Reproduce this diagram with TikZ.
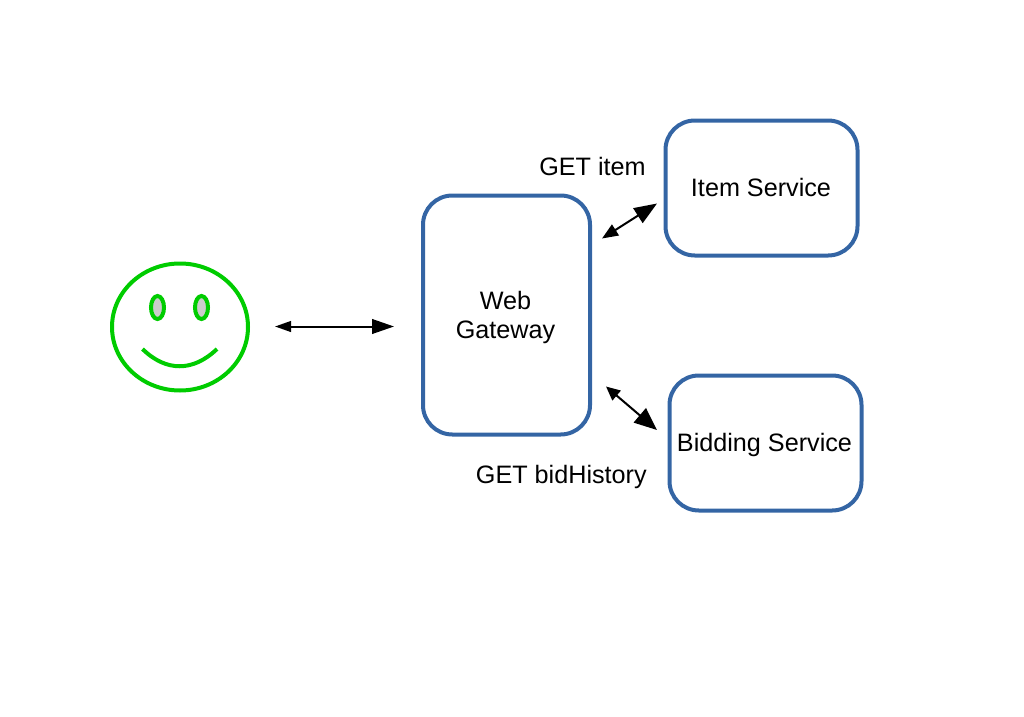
\documentclass[tikz,border=0pt]{standalone}
\usepackage{fontspec}
\setmainfont{Liberation Sans}
\usetikzlibrary{arrows.meta}
\definecolor{boxblue}{HTML}{3465A4}
\definecolor{facegreen}{HTML}{00CC00}
\definecolor{eyegrey}{HTML}{CCCCCC}
\tikzset{
  svc/.style={draw=boxblue,line width=3pt,rounded corners=22pt,anchor=north west,inner sep=0pt,outer sep=0pt},
  lbl/.style={inner sep=0pt,align=center,font=\fontsize{18.9pt}{21.75pt}\selectfont},
  face/.style={draw=facegreen,line width=3pt},
  link/.style={black,line width=1.5pt},
}
\begin{document}
\begin{tikzpicture}[x=0.75pt,y=-0.75pt]
\useasboundingbox (0,0) rectangle (1024,717);
\node[svc,minimum width=125.25pt,minimum height=179.25pt] (web) at (423,195.5) {};
\node[svc,minimum width=144pt,minimum height=101.25pt] (item) at (665.5,120.5) {};
\node[svc,minimum width=144pt,minimum height=101.25pt] (bid) at (669.5,375.5) {};
\node[lbl] (webtext) at (505.5,317) {Web\\Gateway};
\node[lbl] (itemtext) at (761,187) {Item Service};
\node[lbl] (bidtext) at (764.5,445) {Bidding Service};
\node[lbl,anchor=base east] (getitem) at (646,175) {GET item};
\node[lbl,anchor=base east] (getbid) at (647,483) {GET bidHistory};
% face
\draw[face] (180,327) ellipse [x radius=68,y radius=63.5];
\draw[face,fill=eyegrey] (157.5,307.5) ellipse [x radius=6.5,y radius=11.5];
\draw[face,fill=eyegrey] (201.5,307.5) ellipse [x radius=6.5,y radius=11.5];
\draw[face,line cap=butt] (142.5,349) .. controls (166,372) and (193,372) .. (217,349);
% arrows
\coordinate (c1) at (275,326.5);
\coordinate (c2) at (394,326.5);
\coordinate (a1) at (602,238.5);
\coordinate (a2) at (657,203.5);
\coordinate (b1) at (606,386.5);
\coordinate (b2) at (657,430);
\draw[link,{Triangle[length=12pt,width=8pt]}-{Triangle[length=16.5pt,width=11pt]}] (c1) -- (c2);
\draw[link,{Triangle[length=12pt,width=9.5pt]}-{Triangle[length=17pt,width=13pt]}] (a1) -- (a2);
\draw[link,{Triangle[length=10.5pt,width=9.5pt]}-{Triangle[length=17pt,width=14pt]}] (b1) -- (b2);
\end{tikzpicture}
\end{document}
